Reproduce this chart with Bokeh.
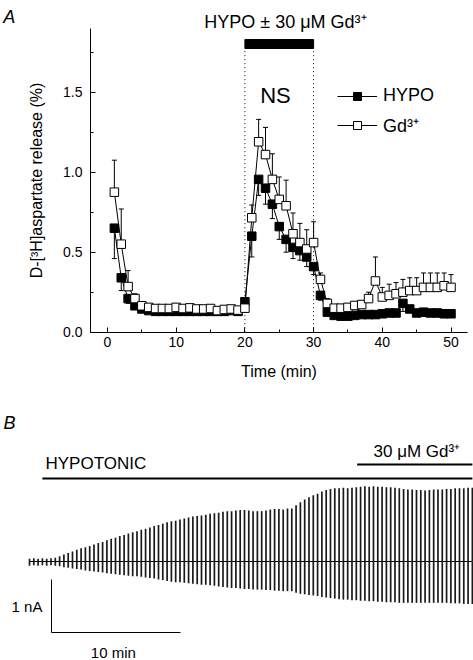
from bokeh.plotting import figure
from bokeh.models import (ColumnDataSource, Label, Legend, LegendItem,
                          SingleIntervalTicker, NumeralTickFormatter, Range1d)
from bokeh.embed import file_html
from bokeh.resources import INLINE

FONT = "Liberation Sans"

# ---------------- Panel A data ----------------
time_min = list(range(1, 51))
hypo_release = [0.65, 0.34, 0.21, 0.165, 0.145, 0.135, 0.13, 0.13, 0.13, 0.13,
                0.13, 0.13, 0.13, 0.13, 0.13, 0.13, 0.13, 0.135, 0.13, 0.19,
                0.60, 0.955, 0.90, 0.80, 0.66, 0.58, 0.53, 0.51, 0.47, 0.41,
                0.23, 0.125, 0.105, 0.10, 0.10, 0.105, 0.11, 0.11, 0.11, 0.115,
                0.12, 0.12, 0.18, 0.145, 0.12, 0.125, 0.12, 0.12, 0.115, 0.115]
hypo_sem = [0.19, 0.08, 0.03, 0.02, 0.02, 0.01, 0.01, 0.01, 0.01, 0.01,
            0.01, 0.01, 0.01, 0.01, 0.01, 0.01, 0.01, 0.01, 0.01, 0.02,
            0.13, 0.10, 0.10, 0.09, 0.08, 0.08, 0.07, 0.06, 0.06, 0.05,
            0.03, 0.02, 0.01, 0.01, 0.01, 0.01, 0.01, 0.01, 0.01, 0.01,
            0.01, 0.01, 0.05, 0.02, 0.01, 0.01, 0.01, 0.01, 0.01, 0.01]
gd_release = [0.875, 0.55, 0.285, 0.21, 0.165, 0.155, 0.148, 0.148, 0.148, 0.155,
              0.148, 0.152, 0.145, 0.145, 0.148, 0.135, 0.142, 0.145, 0.138, 0.15,
              0.715, 1.19, 1.11, 0.955, 0.83, 0.79, 0.615, 0.56, 0.52, 0.56,
              0.33, 0.18, 0.15, 0.15, 0.155, 0.167, 0.173, 0.21, 0.32, 0.22,
              0.23, 0.24, 0.25, 0.26, 0.26, 0.28, 0.28, 0.28, 0.29, 0.28]
gd_sem = [0.20, 0.22, 0.10, 0.03, 0.02, 0.02, 0.02, 0.02, 0.02, 0.02,
          0.02, 0.02, 0.02, 0.02, 0.02, 0.02, 0.02, 0.02, 0.02, 0.02,
          0.08, 0.14, 0.17, 0.16, 0.14, 0.16, 0.13, 0.12, 0.12, 0.13,
          0.04, 0.03, 0.02, 0.02, 0.02, 0.02, 0.02, 0.04, 0.15, 0.06,
          0.07, 0.07, 0.08, 0.08, 0.08, 0.09, 0.09, 0.09, 0.08, 0.08]
treatment_window = [20, 30]
series_labels = ["HYPO", "Gd³⁺"]
x_axis_bounds = (-2.47, 52.4)
y_axis_bounds = (0.0, 1.898)

# ---------------- Panel B data ----------------
pulse_interval_min = 1.0 / 3.0
trace_upper_nA = [0.05, 0.06, 0.05, 0.06, 0.05, 0.06, 0.07, 0.10, 0.13, 0.16,
                  0.19, 0.22, 0.25, 0.27, 0.29, 0.32, 0.35, 0.37, 0.40, 0.43,
                  0.45, 0.48, 0.50, 0.53, 0.55, 0.57, 0.60, 0.62, 0.64, 0.67,
                  0.69, 0.71, 0.74, 0.76, 0.77, 0.79, 0.81, 0.83, 0.85, 0.86,
                  0.87, 0.88, 0.90, 0.91, 0.92, 0.94, 0.95, 0.95, 0.96, 0.97,
                  0.97, 0.96, 0.95, 0.95, 0.95, 0.96, 0.98, 0.99, 0.99, 0.98,
                  1.00, 1.00, 1.06, 1.12, 1.17, 1.21, 1.25, 1.28, 1.32, 1.35,
                  1.37, 1.38, 1.38, 1.39, 1.38, 1.39, 1.40, 1.41, 1.42, 1.41,
                  1.42, 1.41, 1.41, 1.40, 1.40, 1.39, 1.38, 1.37, 1.36, 1.36,
                  1.35, 1.35, 1.34, 1.35, 1.36, 1.36, 1.36, 1.37, 1.37, 1.38,
                  1.38, 1.38, 1.39, 1.39]
trace_lower_nA = [-0.08, -0.07, -0.08, -0.07, -0.08, -0.07, -0.08, -0.09, -0.11, -0.12,
                  -0.13, -0.14, -0.15, -0.17, -0.18, -0.19, -0.20, -0.21, -0.22, -0.23,
                  -0.24, -0.25, -0.26, -0.27, -0.28, -0.28, -0.29, -0.30, -0.31, -0.32,
                  -0.34, -0.35, -0.37, -0.38, -0.39, -0.39, -0.40, -0.41, -0.42, -0.43,
                  -0.44, -0.44, -0.45, -0.46, -0.47, -0.48, -0.49, -0.50, -0.50, -0.51,
                  -0.52, -0.52, -0.53, -0.53, -0.53, -0.54, -0.54, -0.55, -0.55, -0.56,
                  -0.56, -0.56, -0.59, -0.61, -0.62, -0.63, -0.64, -0.65, -0.67, -0.68,
                  -0.69, -0.70, -0.71, -0.72, -0.72, -0.73, -0.73, -0.74, -0.74, -0.75,
                  -0.75, -0.76, -0.76, -0.77, -0.77, -0.77, -0.78, -0.78, -0.78, -0.78,
                  -0.78, -0.78, -0.78, -0.78, -0.78, -0.78, -0.78, -0.78, -0.79, -0.79,
                  -0.79, -0.80, -0.80, -0.80]
hypotonic_start_min = 1.0
gd_start_min = 25.4
scale_bar_nA = 1.0
scale_bar_min = 10.0

pulse_time = [i * pulse_interval_min for i in range(len(trace_upper_nA))]
recording_end = pulse_time[-1]

# ================= Panel A =================
pa = figure(width=473, height=388, min_border=0,
            x_range=Range1d(-15.575, 53.275), y_range=Range1d(-0.352, 2.073),
            output_backend="svg", toolbar_location=None)
pa.outline_line_color = None
pa.grid.visible = False
pa.xaxis.ticker = SingleIntervalTicker(interval=10, num_minor_ticks=2)
pa.yaxis.ticker = SingleIntervalTicker(interval=0.5, num_minor_ticks=2)
pa.yaxis.formatter = NumeralTickFormatter(format="0.0")
pa.xaxis.bounds = x_axis_bounds
pa.yaxis.bounds = y_axis_bounds
pa.xaxis.fixed_location = y_axis_bounds[0]
pa.yaxis.fixed_location = x_axis_bounds[0]
for ax in pa.axis:
    ax.major_tick_in = 5
    ax.major_tick_out = 0
    ax.minor_tick_in = 3
    ax.minor_tick_out = 0
    ax.axis_line_color = "black"
    ax.major_tick_line_color = "black"
    ax.minor_tick_line_color = "black"
    ax.major_label_text_font = FONT
    ax.major_label_text_font_size = "14px"
    ax.major_label_text_color = "black"
    ax.axis_label_text_font = FONT
    ax.axis_label_text_font_size = "16px"
    ax.axis_label_text_font_style = "normal"
    ax.axis_label_text_color = "black"
pa.xaxis.axis_label = "Time (min)"
pa.yaxis.axis_label = "D-[³H]aspartate release (%)"
pa.xaxis.major_label_standoff = 5
pa.xaxis.axis_label_standoff = 12
pa.yaxis.major_label_standoff = 8
pa.yaxis.axis_label_standoff = 15

src = ColumnDataSource(dict(
    t=time_min, hypo=hypo_release, gd=gd_release,
    hypo_lo=[v - e for v, e in zip(hypo_release, hypo_sem)],
    gd_hi=[v + e for v, e in zip(gd_release, gd_sem)],
))

pa.segment(x0=treatment_window, y0=[0, 0], x1=treatment_window, y1=[1.773, 1.773],
           line_color="black", line_width=1, line_dash="1 3")
pa.quad(left=[treatment_window[0]], right=[treatment_window[1]], bottom=[1.773], top=[1.829],
        fill_color="black", line_color="black")

pa.segment(x0="t", y0="hypo", x1="t", y1="hypo_lo", source=src, line_color="black", line_width=1)
pa.scatter(x="t", y="hypo_lo", source=src, marker="dash", size=5, line_color="black", line_width=1)
pa.segment(x0="t", y0="gd", x1="t", y1="gd_hi", source=src, line_color="black", line_width=1)
pa.scatter(x="t", y="gd_hi", source=src, marker="dash", size=5, line_color="black", line_width=1)

hypo_line = pa.line(x="t", y="hypo", source=src, line_color="black", line_width=1)
gd_line = pa.line(x="t", y="gd", source=src, line_color="black", line_width=1)
hypo_pts = pa.scatter(x="t", y="hypo", source=src, marker="square", size=8.5,
                      fill_color="black", line_color="black", line_width=1)
gd_pts = pa.scatter(x="t", y="gd", source=src, marker="square", size=8.5,
                    fill_color="white", line_color="black", line_width=1)

legend = Legend(items=[LegendItem(label=series_labels[0], renderers=[hypo_line, hypo_pts]),
                       LegendItem(label=series_labels[1], renderers=[gd_line, gd_pts])],
                location=(337, 251), glyph_width=40, glyph_height=20, label_height=20,
                label_standoff=6, spacing=7, padding=0, margin=0,
                border_line_color=None, background_fill_alpha=0,
                label_text_font=FONT, label_text_font_size="18px", label_text_color="black")
pa.add_layout(legend)

pa.add_layout(Label(x=25.9, y=1.94, text="HYPO ± 30 μM Gd³⁺", text_align="center",
                    text_baseline="middle", text_font=FONT, text_font_size="18px",
                    text_color="black"))
pa.add_layout(Label(x=24.45, y=1.479, text="NS", text_align="center",
                    text_baseline="middle", text_font=FONT, text_font_size="22px",
                    text_color="black"))
pa.add_layout(Label(x=-14.3, y=1.97, text="A", text_align="center",
                    text_baseline="middle", text_font=FONT, text_font_size="18px",
                    text_font_style="italic", text_color="black"))

# ================= Panel B =================
pb = figure(width=473, height=272, min_border=0,
            x_range=Range1d(-2.248, 34.42), y_range=Range1d(-1.868, 3.264),
            x_axis_location=None, y_axis_location=None,
            output_backend="svg", toolbar_location=None)
pb.outline_line_color = None
pb.grid.visible = False

tsrc = ColumnDataSource(dict(t=pulse_time, up=trace_upper_nA, lo=trace_lower_nA,
                             zero=[0.0] * len(pulse_time)))
pb.line(x=[pulse_time[0], recording_end], y=[0, 0], line_color="black", line_width=1)
pb.segment(x0="t", y0="zero", x1="t", y1="up", source=tsrc, line_color="#1a1a1a", line_width=1.7)
pb.segment(x0="t", y0="zero", x1="t", y1="lo", source=tsrc, line_color="#1a1a1a", line_width=1.7)

pb.segment(x0=[hypotonic_start_min, gd_start_min], y0=[1.566, 1.83],
           x1=[recording_end, recording_end], y1=[1.566, 1.83],
           line_color="black", line_width=2)

sb_x, sb_y = 1.705, -1.34
pb.segment(x0=[sb_x, sb_x], y0=[sb_y, sb_y], x1=[sb_x, sb_x + scale_bar_min],
           y1=[sb_y + scale_bar_nA, sb_y], line_color="black", line_width=1)

for x, y, txt, align, size, style in [
        (-1.55, 2.62, "B", "center", "18px", "italic"),
        (1.24, 1.84, "HYPOTONIC", "left", "17px", "normal"),
        (26.67, 2.075, "30 μM Gd³⁺", "left", "17px", "normal"),
        (1.0, -0.85, "1 nA", "right", "15px", "normal"),
        (6.5, -1.717, "10 min", "center", "15px", "normal")]:
    pb.add_layout(Label(x=x, y=y, text=txt, text_align=align, text_baseline="middle",
                        text_font=FONT, text_font_size=size, text_font_style=style,
                        text_color="black"))

open("out.html", "w").write(file_html([pa, pb], INLINE))
